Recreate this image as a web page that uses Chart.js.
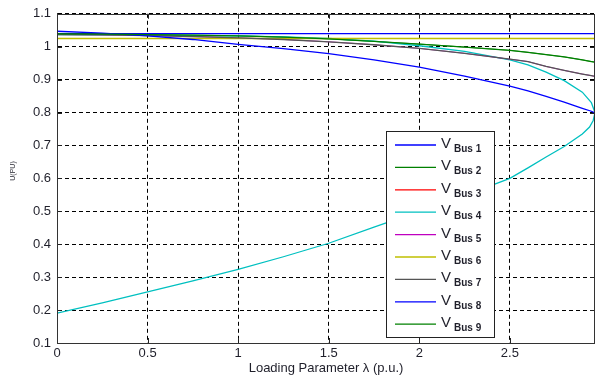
<!DOCTYPE html>
<html>
<head>
<meta charset="utf-8">
<script src="https://cdn.jsdelivr.net/npm/chart.js@4/dist/chart.umd.min.js"></script>
<style>
  html,body{margin:0;padding:0;background:#fff;}
  #wrap{width:595px;height:380px;position:relative;}
</style>
</head>
<body>
<div id="wrap"><canvas id="c" width="595" height="380"></canvas></div>
<script>
// ---- data ----
const xTicks = [0, 0.5, 1, 1.5, 2, 2.5];
const yTicks = [0.1, 0.2, 0.3, 0.4, 0.5, 0.6, 0.7, 0.8, 0.9, 1, 1.1];

// loading parameter values for the upper (stable) branch
const lambdaUp = [0, 0.25, 0.5, 0.75, 1.0, 1.25, 1.5, 1.75, 2.0, 2.25, 2.5, 2.6, 2.7, 2.8, 2.9, 2.95, 2.97];
// lower branch (returning from nose point) for bus 4
const lambdaLow = [2.97, 2.96, 2.94, 2.9, 2.8, 2.7, 2.6, 2.5, 2.25, 2.0, 1.75, 1.5, 1.25, 1.0, 0.75, 0.5, 0.25, 0];

const bus1 = [1.040,1.040,1.040,1.040,1.040,1.040,1.040,1.040,1.040,1.040,1.040,1.040,1.040,1.040,1.040,1.040,1.040];
const bus2 = [1.039,1.038,1.037,1.035,1.033,1.029,1.024,1.016,1.008,0.999,0.989,0.983,0.976,0.969,0.960,0.955,0.953];
const bus3 = [1.025,1.025,1.025,1.025,1.025,1.025,1.025,1.025,1.025,1.025,1.025,1.025,1.025,1.025,1.025,1.025,1.025];
const bus4Up = [1.037,1.036,1.035,1.034,1.033,1.030,1.025,1.017,1.003,0.986,0.960,0.945,0.923,0.897,0.862,0.830,0.800];
const bus4Low = [0.800,0.776,0.756,0.735,0.697,0.665,0.632,0.600,0.548,0.500,0.452,0.403,0.362,0.324,0.289,0.255,0.222,0.191];
const bus5 = [1.037,1.036,1.034,1.031,1.027,1.022,1.015,1.006,0.995,0.980,0.962,0.955,0.940,0.928,0.917,0.912,0.910];
const bus6 = [1.025,1.025,1.025,1.025,1.025,1.025,1.025,1.025,1.025,1.025,1.025,1.025,1.025,1.025,1.025,1.025,1.025];
const bus7 = [1.037,1.036,1.034,1.031,1.027,1.022,1.015,1.006,0.995,0.980,0.962,0.955,0.940,0.928,0.917,0.912,0.910];
const bus8 = [1.047,1.041,1.033,1.022,1.007,0.994,0.979,0.960,0.938,0.911,0.880,0.866,0.849,0.832,0.813,0.804,0.799];
const bus9 = [1.039,1.038,1.037,1.035,1.033,1.029,1.024,1.016,1.008,0.999,0.989,0.983,0.976,0.969,0.960,0.955,0.953];

const seriesNames = ['Bus 1','Bus 2','Bus 3','Bus 4','Bus 5','Bus 6','Bus 7','Bus 8','Bus 9'];
const seriesColors = ['#0000ff','#008000','#ff0000','#00c0c0','#bf00bf','#bfbf00','#555555','#0000ff','#008000'];
const seriesWidths = [1.3, 0.8, 0.8, 1.3, 0.8, 1.3, 1.3, 1.3, 1.3];

function pts(xs, ys){ return xs.map((x,i)=>({x:x, y:ys[i]})); }
const bus4 = pts(lambdaUp, bus4Up).concat(pts(lambdaLow, bus4Low).slice(1));
const seriesData = [
  pts(lambdaUp,bus1), pts(lambdaUp,bus2), pts(lambdaUp,bus3), bus4, pts(lambdaUp,bus5),
  pts(lambdaUp,bus6), pts(lambdaUp,bus7), pts(lambdaUp,bus8), pts(lambdaUp,bus9)
];

const FONT = "'Liberation Sans', Arial, sans-serif";
const TXT = '#1f1f2a';

const frameAndLegend = {
  id: 'frameAndLegend',
  afterDatasetsDraw(chart){
    const ctx = chart.ctx, a = chart.chartArea;
    const xs = chart.scales.x, ys = chart.scales.y;
    ctx.save();
    // inward tick marks
    ctx.strokeStyle = '#222'; ctx.lineWidth = 1;
    ctx.beginPath();
    xTicks.forEach(v=>{
      const px = Math.round(xs.getPixelForValue(v)) + 0.5;
      ctx.moveTo(px, a.bottom); ctx.lineTo(px, a.bottom - 5);
      ctx.moveTo(px, a.top); ctx.lineTo(px, a.top + 5);
    });
    yTicks.forEach(v=>{
      const py = Math.round(ys.getPixelForValue(v)) + 0.5;
      ctx.moveTo(a.left, py); ctx.lineTo(a.left + 5, py);
      ctx.moveTo(a.right, py); ctx.lineTo(a.right - 5, py);
    });
    ctx.stroke();
    // frame
    ctx.strokeStyle = '#333';
    ctx.strokeRect(Math.round(a.left)+0.5, Math.round(a.top)+0.5, Math.round(a.right-a.left)-1, Math.round(a.bottom-a.top));

    // legend
    const lx = 386.5, ly = 131.5, lw = 108, lh = 206;
    ctx.fillStyle = '#fff';
    ctx.fillRect(lx, ly, lw, lh);
    ctx.strokeStyle = '#222'; ctx.lineWidth = 1;
    ctx.strokeRect(lx, ly, lw, lh);
    const rowY0 = 145, rowStep = 22.4;
    seriesNames.forEach((n,i)=>{
      const y = rowY0 + i*rowStep;
      ctx.strokeStyle = seriesColors[i];
      ctx.lineWidth = 1.3;
      ctx.beginPath(); ctx.moveTo(395, y); ctx.lineTo(436, y); ctx.stroke();
      ctx.fillStyle = TXT;
      ctx.textBaseline = 'alphabetic'; ctx.textAlign = 'left';
      ctx.font = '15px ' + FONT;
      ctx.fillText('V', 441, y + 3);
      ctx.font = 'bold 10px ' + FONT;
      ctx.fillText(n, 454, y + 7);
    });

    // y axis title
    ctx.save();
    ctx.translate(13, 171);
    ctx.rotate(-Math.PI/2);
    ctx.font = '7px ' + FONT;
    ctx.fillStyle = TXT;
    ctx.textAlign = 'center'; ctx.textBaseline = 'middle';
    ctx.fillText('U(PU)', 0, 0);
    ctx.restore();
    ctx.restore();
  }
};

new Chart(document.getElementById('c'), {
  type: 'line',
  data: {
    datasets: seriesData.map((d,i)=>({
      label: 'V' + seriesNames[i],
      data: d,
      borderColor: seriesColors[i],
      backgroundColor: seriesColors[i],
      borderWidth: seriesWidths[i],
      pointRadius: 0,
      tension: 0,
      fill: false,
      order: 10 - i
    }))
  },
  options: {
    responsive: false,
    animation: false,
    parsing: true,
    layout: { padding: { left: 0, right: 0, top: 12, bottom: 0 } },
    plugins: { legend: { display: false }, tooltip: { enabled: false } },
    scales: {
      x: {
        type: 'linear',
        min: 0, max: 2.97,
        afterBuildTicks(scale){ scale.ticks = xTicks.map(v=>({value:v})); },
        afterFit(scale){ scale.height = 37; },
        grid: { color: '#000', lineWidth: 1, drawTicks: false, tickLength: 0 },
        border: { display: true, color: '#333', dash: [4,3] },
        ticks: { color: TXT, font: { family: FONT, size: 13 }, padding: 3, maxRotation: 0,
                 callback: v => String(v) },
        title: { display: true, text: 'Loading Parameter \u03bb (p.u.)', color: TXT,
                 font: { family: FONT, size: 13 }, padding: { top: 0, bottom: 4 } }
      },
      y: {
        type: 'linear',
        min: 0.1, max: 1.1,
        afterBuildTicks(scale){ scale.ticks = yTicks.map(v=>({value:v})); },
        afterFit(scale){ scale.width = 57; },
        grid: { color: '#000', lineWidth: 1, drawTicks: false, tickLength: 0 },
        border: { display: true, color: '#333', dash: [4,3] },
        ticks: { color: TXT, font: { family: FONT, size: 13 }, padding: 6,
                 callback: v => String(Math.round(v*10)/10) }
      }
    }
  },
  plugins: [frameAndLegend]
});
</script>
</body>
</html>
